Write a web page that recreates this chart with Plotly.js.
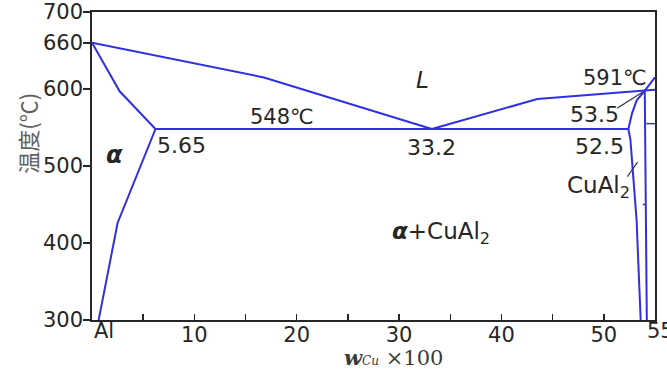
<!DOCTYPE html>
<html>
<head>
<meta charset="utf-8">
<script src="https://cdn.plot.ly/plotly-3.0.1.min.js"></script>
<style>
html,body{margin:0;padding:0;background:#fff;}
#chart{width:667px;height:371px;}
</style>
</head>
<body>
<div id="chart"></div>
<script>
// ---- data (composition w_Cu x100, temperature in °C) ----
const liquidusAlX = [0, 16.8, 33.2];
const liquidusAlY = [660, 615, 548];
const liquidusThetaX = [33.2, 43.5, 54.0];
const liquidusThetaY = [548, 587, 598];
const solvusX = [0, 2.7, 6.2, 2.5, 0.65];
const solvusY = [660, 597, 548, 426, 300];
const eutecticX = [6.2, 52.4];
const eutecticY = [548, 548];
const thetaLeftX = [54.0, 53.2, 52.75, 52.4, 52.6, 53.2, 53.6];
const thetaLeftY = [598, 585, 568, 548, 534, 430, 300];
const thetaRightX = [54.0, 54.2];
const thetaRightY = [598, 300];
const peritecticX = [54.0, 55];
const peritecticY = [598, 599];
const upperLiquidusX = [54.0, 55];
const upperLiquidusY = [598, 615];
const rightStubX = [54.15, 55];
const rightStubY = [555, 555];
const dashX = [53.8, 54.1];
const dashY = [450, 450];

const yTickVals = [300, 400, 500, 600, 660, 700];
const yTickText = ['300', '400', '500', '600', '660', '700'];
const xTickVals = [5, 10, 15, 20, 25, 30, 35, 40, 45, 50];
const xTickText = ['', '10', '', '20', '', '30', '', '40', '', '50'];

const blue = 'rgb(48,48,226)';
const ink = '#262626';
const sans = 'DejaVu Sans, Liberation Sans, sans-serif';
const serif = 'DejaVu Serif, Liberation Serif, serif';

function line(x, y, w) {
  return {x: x, y: y, type: 'scatter', mode: 'lines',
          line: {color: blue, width: w || 2}, hoverinfo: 'skip', showlegend: false};
}

const traces = [
  line(liquidusAlX, liquidusAlY),
  line(liquidusThetaX, liquidusThetaY),
  line(solvusX, solvusY),
  line(eutecticX, eutecticY),
  line(thetaLeftX, thetaLeftY),
  line(thetaRightX, thetaRightY),
  line(peritecticX, peritecticY),
  line(upperLiquidusX, upperLiquidusY),
  line(rightStubX, rightStubY, 1.5),
  line(dashX, dashY, 1.5)
];

function ann(text, x, y, size, extra) {
  return Object.assign({text: text, x: x, y: y, xref: 'x', yref: 'y', showarrow: false,
    font: {family: sans, size: size || 22, color: ink}}, extra || {});
}

const annotations = [
  ann('<i>L</i>', 32.3, 612, 23),
  ann('591℃', 54.4, 614.5, 21, {xanchor: 'right'}),
  ann('53.5', 49.1, 566.5, 22),
  ann('548℃', 18.6, 563, 21),
  ann('5.65', 8.7, 526, 22),
  ann('33.2', 33.2, 523.5, 22),
  ann('52.5', 49.6, 525, 22),
  ann('CuAl<sub>2</sub>', 49.5, 473, 23),
  ann('<b><i>α</i></b>', 2.2, 514.5, 24),
  ann('<b><i>α</i></b>+CuAl<sub>2</sub>', 34.1, 413, 23),
  // axis end labels
  {text: 'Al', x: 0, y: 0, xref: 'x', yref: 'paper', xanchor: 'left', yanchor: 'top',
   yshift: 3, showarrow: false, font: {family: sans, size: 21, color: ink}},
  {text: '55', x: 55, y: 0, xref: 'x', yref: 'paper', xanchor: 'center', yanchor: 'top',
   xshift: 5, yshift: 3, showarrow: false, font: {family: sans, size: 21, color: ink}},
  // axis titles
  {text: '<b><i>w</i></b><span style="font-size:12px"><i>Cu</i></span> ×100', x: 0.535, y: 0,
   xref: 'paper', yref: 'paper', xanchor: 'center', yanchor: 'top', yshift: -23, showarrow: false,
   font: {family: serif, size: 21, color: '#3a3a3a'}},
  {text: '温度(℃)', x: 0, y: 542, xref: 'paper', yref: 'y', xanchor: 'center', yanchor: 'middle',
   xshift: -65, textangle: -90, showarrow: false,
   font: {family: 'Noto Sans CJK SC, sans-serif', size: 22, color: '#606060'}}
];

const shapes = [
  {type: 'line', xref: 'x', yref: 'y', x0: 51.3, y0: 575, x1: 53.8, y1: 596,
   line: {color: '#333', width: 1.2}},
  {type: 'line', xref: 'x', yref: 'y', x0: 52.3, y0: 486, x1: 53.3, y1: 505,
   line: {color: '#333', width: 1.2}}
];

const layout = {
  width: 667, height: 371,
  margin: {l: 92, r: 12, t: 12, b: 51, pad: 0},
  paper_bgcolor: '#fff', plot_bgcolor: '#fff',
  showlegend: false,
  xaxis: {range: [0, 55], tickmode: 'array', tickvals: xTickVals, ticktext: xTickText,
          ticks: 'inside', ticklen: 6, tickwidth: 1.5, tickcolor: ink,
          ticklabelstandoff: -5,
          showgrid: false, zeroline: false, showline: true, mirror: true,
          linecolor: ink, linewidth: 1.8,
          tickfont: {family: sans, size: 21, color: ink}, fixedrange: true},
  yaxis: {range: [300, 700], tickmode: 'array', tickvals: yTickVals, ticktext: yTickText,
          ticks: 'outside', ticklen: 7, tickwidth: 1.5, tickcolor: ink,
          ticklabelstandoff: -4, ticklabeloverflow: 'allow',
          showgrid: false, zeroline: false, showline: true, mirror: true,
          linecolor: ink, linewidth: 1.8,
          tickfont: {family: sans, size: 21, color: ink}, fixedrange: true},
  annotations: annotations,
  shapes: shapes
};

Plotly.newPlot('chart', traces, layout, {staticPlot: true, displayModeBar: false});
</script>
</body>
</html>
